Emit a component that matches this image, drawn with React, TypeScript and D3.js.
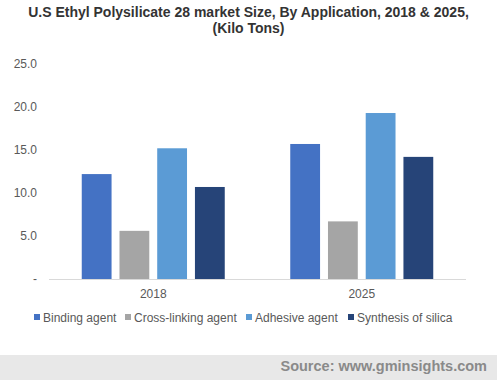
import React from "react";
import * as d3 from "d3";

const categories = ["2018", "2025"];
const seriesNames = ["Binding agent", "Cross-linking agent", "Adhesive agent", "Synthesis of silica"];
const bindingAgent = [12.2, 15.7];
const crossLinkingAgent = [5.6, 6.7];
const adhesiveAgent = [15.2, 19.3];
const synthesisOfSilica = [10.7, 14.2];
const yTicks = [0, 5, 10, 15, 20, 25];
const colors = ["#4472C4", "#A5A5A5", "#5B9BD5", "#264478"];

const W = 497;
const H = 380;
const left = 49;
const right = 466;
const top = 64;
const bottom = 279;

export default function App() {
  const series = [bindingAgent, crossLinkingAgent, adhesiveAgent, synthesisOfSilica];
  const x0 = d3.scaleBand<string>().domain(categories).range([left, right]).paddingInner(0).paddingOuter(0);
  const groupW = 143;
  const x1 = d3.scaleBand<string>().domain(seriesNames).range([0, groupW]).paddingInner(0.21).paddingOuter(0);
  const y = d3.scaleLinear().domain([0, 25]).range([bottom, top]);

  const legendX = [34, 125, 246, 348];
  const font = "Arial, 'Liberation Sans', sans-serif";

  return (
    <svg width={W} height={H} style={{ position: "absolute", left: 0, top: 0 }} fontFamily={font}>
      <rect x={0} y={0} width={W} height={H} fill="#fff" />
      <text x={W / 2} y={17} textAnchor="middle" fontSize={14} fontWeight="bold" fill="#333">
        U.S Ethyl Polysilicate 28 market Size, By Application, 2018 &amp; 2025,
      </text>
      <text x={W / 2} y={33} textAnchor="middle" fontSize={14} fontWeight="bold" fill="#333">
        (Kilo Tons)
      </text>
      {yTicks.map((t) => (
        <text key={t} x={37} y={y(t) + 4} textAnchor="end" fontSize={12} fill="#595959">
          {t === 0 ? "-" : t.toFixed(1)}
        </text>
      ))}
      {categories.map((c, ci) => {
        const gx = (x0(c) as number) + x0.bandwidth() / 2 - groupW / 2;
        return (
          <g key={c}>
            {series.map((s, si) => (
              <rect
                key={si}
                x={gx + (x1(seriesNames[si]) as number)}
                y={y(s[ci])}
                width={x1.bandwidth()}
                height={bottom - y(s[ci])}
                fill={colors[si]}
              />
            ))}
            <text x={(x0(c) as number) + x0.bandwidth() / 2} y={298} textAnchor="middle" fontSize={12} fill="#595959">
              {c}
            </text>
          </g>
        );
      })}
      <line x1={left} x2={right} y1={bottom + 0.5} y2={bottom + 0.5} stroke="#d9d9d9" strokeWidth={1} />
      {seriesNames.map((n, i) => (
        <g key={n}>
          <rect x={legendX[i]} y={314} width={6} height={6} fill={colors[i]} />
          <text x={legendX[i] + 9} y={322} fontSize={12} fill="#595959">
            {n}
          </text>
        </g>
      ))}
      <rect x={0} y={355} width={W} height={25} fill="#e8e8e8" />
      <text x={487} y={371} textAnchor="end" fontSize={14.5} fontWeight="bold" fill="#8a8a8a">
        Source: www.gminsights.com
      </text>
    </svg>
  );
}
